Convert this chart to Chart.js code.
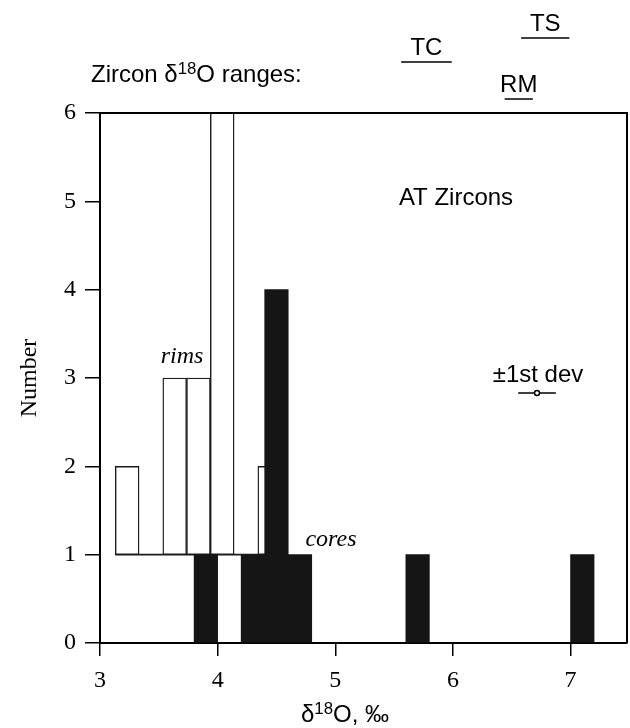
<!DOCTYPE html>
<html>
<head>
<meta charset="utf-8">
<script src="https://cdn.jsdelivr.net/npm/chart.js@4.4.1/dist/chart.umd.min.js"></script>
<style>
  html, body { margin: 0; padding: 0; background: #fff; }
  #wrap { width: 630px; height: 728px; }
</style>
</head>
<body>
<div id="wrap"><canvas id="chart"></canvas></div>
<script>
// Histogram data (bin centres in permil, counts)
const coreCenters = [3.9, 4.3, 4.5, 4.7, 5.7, 7.1];
const coreCounts = [1, 1, 4, 1, 1, 1];
const rimCenters = [3.231, 3.433, 3.635, 3.837, 4.039, 4.241, 4.443];
const rimCounts = [1, 0, 2, 2, 5, 0, 1];
const rimBase = 1;   // rims histogram is drawn on top of a count of 1
const rimWidth = 0.202;
const xTicks = [3, 4, 5, 6, 7];
const yTicks = [0, 1, 2, 3, 4, 5, 6];

// Zircon d18O ranges shown above the plot
const rangeNames = ['TC', 'TS', 'RM'];
const rangeLo = [5.56, 6.58, 6.44];
const rangeHi = [5.99, 6.99, 6.68];

// +-1 st dev marker
const sdCenter = 6.715;
const sdHalf = 0.16;
const sdLevel = 2.83;

const SERIF = '"Liberation Serif", "DejaVu Serif", serif';
const SANS = '"Liberation Sans", Arial, sans-serif';

// rims as floating bars, empty bins are just the baseline
let rimData = [];
for (let i = 0; i < rimCenters.length; i++) {
    if (rimCounts[i] > 0) {
        rimData.push({ x: rimCenters[i], y: [rimBase, rimBase + rimCounts[i]] });
    }
}
let rimLine = [
    { x: rimCenters[0] - rimWidth / 2, y: rimBase },
    { x: rimCenters[rimCenters.length - 1] + rimWidth / 2, y: rimBase }
];

// text with a superscript part
function supText(ctx, parts, x, y, size, align) {
    let widths = parts.map(p => {
        ctx.font = (p.sup ? size * 0.7 : size) + 'px ' + SANS;
        return ctx.measureText(p.t).width;
    });
    let total = widths.reduce((a, b) => a + b, 0);
    let cx = align == 'center' ? x - total / 2 : x;
    ctx.textAlign = 'left';
    ctx.textBaseline = 'alphabetic';
    parts.forEach((p, i) => {
        ctx.font = (p.sup ? size * 0.7 : size) + 'px ' + SANS;
        ctx.fillText(p.t, cx, p.sup ? y - size * 0.33 : y);
        cx += widths[i];
    });
}

const extras = {
    id: 'extras',
    afterDraw(chart) {
        const ctx = chart.ctx;
        const a = chart.chartArea;
        const xs = chart.scales.x;
        ctx.save();
        ctx.fillStyle = '#000';
        ctx.strokeStyle = '#000';

        // frame top and right
        ctx.lineWidth = 2;
        ctx.beginPath();
        ctx.moveTo(a.left, a.top);
        ctx.lineTo(a.right, a.top);
        ctx.lineTo(a.right, a.bottom);
        ctx.stroke();

        // ranges above the plot
        const lineY = [62, 38, 99];
        ctx.lineWidth = 1.5;
        ctx.font = '24px ' + SANS;
        ctx.textAlign = 'center';
        ctx.textBaseline = 'alphabetic';
        for (let i = 0; i < rangeNames.length; i++) {
            let x0 = xs.getPixelForValue(rangeLo[i]);
            let x1 = xs.getPixelForValue(rangeHi[i]);
            ctx.beginPath();
            ctx.moveTo(x0, lineY[i]);
            ctx.lineTo(x1, lineY[i]);
            ctx.stroke();
            ctx.fillText(rangeNames[i], (x0 + x1) / 2, lineY[i] - 7);
        }

        supText(ctx, [{ t: 'Zircon \u03b4' }, { t: '18', sup: true }, { t: 'O ranges:' }], 91, 82, 24, 'left');
        supText(ctx, [{ t: '\u03b4' }, { t: '18', sup: true }, { t: 'O, \u2030' }], 345, 722, 24, 'center');

        ctx.font = '24px ' + SANS;
        ctx.textAlign = 'center';
        ctx.textBaseline = 'middle';
        ctx.fillText('AT Zircons', 456, 198);
        ctx.fillText('\u00b11st dev', 538, 375);

        ctx.font = 'italic 24px ' + SERIF;
        ctx.fillText('rims', 182, 357);
        ctx.fillText('cores', 331, 540);
        ctx.restore();
    }
};

const axisFont = { family: SERIF, size: 24 };

new Chart(document.getElementById('chart'), {
    type: 'bar',
    data: {
        datasets: [
            {
                label: 'cores',
                xAxisID: 'x',
                data: coreCenters.map((c, i) => ({ x: c, y: coreCounts[i] })),
                backgroundColor: '#151515',
                borderWidth: 0,
                barPercentage: 1,
                categoryPercentage: 1,
                order: 0
            },
            {
                label: 'rims',
                xAxisID: 'x2',
                data: rimData,
                backgroundColor: '#ffffff',
                borderColor: '#1a1a1a',
                borderWidth: 1.4,
                borderSkipped: false,
                barPercentage: 1,
                categoryPercentage: 1,
                order: 1
            },
            {
                type: 'line',
                label: 'rim base',
                xAxisID: 'x',
                data: rimLine,
                borderColor: '#1a1a1a',
                borderWidth: 1.6,
                pointRadius: 0,
                order: 2
            },
            {
                type: 'line',
                label: 'sd',
                xAxisID: 'x',
                data: [
                    { x: sdCenter - sdHalf, y: sdLevel },
                    { x: sdCenter, y: sdLevel },
                    { x: sdCenter + sdHalf, y: sdLevel }
                ],
                borderColor: '#000',
                borderWidth: 1.5,
                pointRadius: [0, 2.5, 0],
                pointBorderWidth: 1.5,
                pointBackgroundColor: '#fff',
                pointBorderColor: '#000',
                order: 0
            }
        ]
    },
    options: {
        responsive: true,
        maintainAspectRatio: false,
        animation: false,
        grouped: false,
        layout: { padding: { top: 113, right: 3, left: 0, bottom: 0 } },
        plugins: { legend: { display: false }, tooltip: { enabled: false } },
        scales: {
            x: {
                type: 'linear',
                min: 3,
                max: 7.48,
                offset: false,
                afterBuildTicks: s => { s.ticks = xTicks.map(v => ({ value: v })); },
                afterFit: s => { s.height = 85; },
                ticks: { font: axisFont, color: '#000', padding: 10, autoSkip: false, maxRotation: 0 },
                grid: { drawOnChartArea: false, offset: false, tickLength: 13, color: '#000', lineWidth: 1.5 },
                border: { color: '#000', width: 2 }
            },
            x2: {
                type: 'linear',
                min: 3,
                max: 7.48,
                offset: false,
                display: false,
                grid: { offset: false }
            },
            y: {
                min: 0,
                max: 6,
                afterBuildTicks: s => { s.ticks = yTicks.map(v => ({ value: v })); },
                afterFit: s => { s.width = 100; },
                ticks: { font: axisFont, color: '#000', padding: 9 },
                grid: { drawOnChartArea: false, tickLength: 15, color: '#000', lineWidth: 1.5 },
                border: { color: '#000', width: 2 },
                title: { display: true, text: 'Number', font: axisFont, color: '#000', padding: { top: 15, bottom: 0 } }
            }
        }
    },
    plugins: [extras]
});
</script>
</body>
</html>
